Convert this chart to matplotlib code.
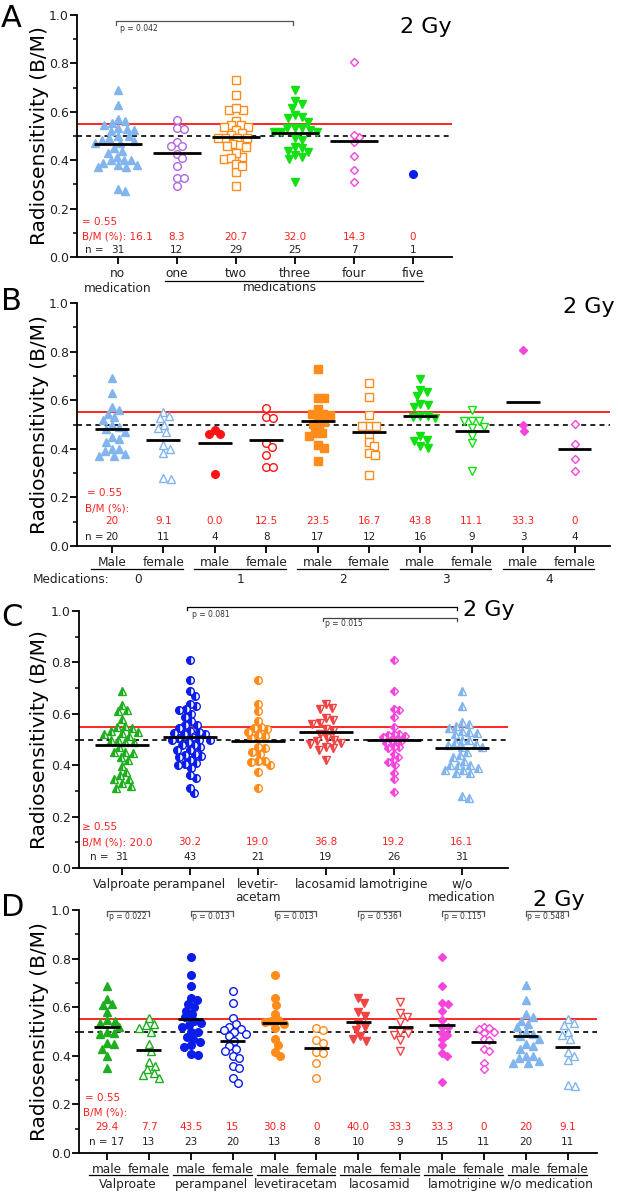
import numpy as np
import matplotlib
matplotlib.use('Agg')
import matplotlib.pyplot as plt

plt.rcParams['font.family'] = ['DejaVu Sans']

W, H = 618, 1193

LBLUE = '#82b4ee'
PURPLE = '#b266dd'
ORANGE = '#ff8c1a'
GREEN = '#12e012'
DGREEN = '#1fae1f'
RED = '#ff1414'
LRED = '#f04545'
MAGENTA = '#f545dc'
BLUE = '#0b1de8'
TRED = '#ff2020'

# ---- panel B data: number of medications x sex ----
b_labels = ['Male', 'female', 'male', 'female', 'male', 'female', 'male', 'female', 'male', 'female']
b_groups = ['0', '1', '2', '3', '4']
b_m0 = [0.69, 0.63, 0.57, 0.56, 0.545, 0.53, 0.52, 0.50, 0.49, 0.48, 0.47, 0.45, 0.44, 0.43, 0.40, 0.40, 0.39, 0.38, 0.37, 0.37]
b_f0 = [0.552, 0.534, 0.525, 0.50, 0.484, 0.47, 0.415, 0.40, 0.381, 0.281, 0.274]
b_m1 = [0.477, 0.459, 0.459, 0.295]
b_f1 = [0.566, 0.532, 0.527, 0.425, 0.408, 0.374, 0.326, 0.326]
b_m2 = [0.73, 0.607, 0.607, 0.563, 0.545, 0.545, 0.538, 0.525, 0.511, 0.504, 0.49, 0.467, 0.463, 0.453, 0.415, 0.405, 0.351]
b_f2 = [0.671, 0.614, 0.538, 0.493, 0.493, 0.493, 0.46, 0.429, 0.411, 0.384, 0.374, 0.292]
b_m3 = [0.689, 0.644, 0.634, 0.616, 0.586, 0.579, 0.573, 0.534, 0.534, 0.532, 0.525, 0.452, 0.438, 0.433, 0.412, 0.404]
b_f3 = [0.559, 0.515, 0.515, 0.515, 0.49, 0.484, 0.453, 0.422, 0.31]
b_m4 = [0.805, 0.497, 0.474]
b_f4 = [0.504, 0.418, 0.36, 0.31]
b_pct = ['20', '9.1', '0.0', '12.5', '23.5', '16.7', '43.8', '11.1', '33.3', '0']
b_n = [20, 11, 4, 8, 17, 12, 16, 9, 3, 4]

# ---- panel A data ----
a_labels = ['no\nmedication', 'one', 'two', 'three', 'four', 'five']
a_five = [0.344]
a_pct = ['16.1', '8.3', '20.7', '32.0', '14.3', '0']
a_n = [31, 12, 29, 25, 7, 1]

# ---- panel D data: drug x sex ----
d_labels = ['male', 'female'] * 6
d_groups = ['Valproate', 'perampanel', 'levetiracetam', 'lacosamid', 'lamotrigine', 'w/o medication']
d_val_m = [0.687, 0.635, 0.613, 0.609, 0.581, 0.548, 0.545, 0.535, 0.52, 0.50, 0.492, 0.489, 0.453, 0.448, 0.43, 0.398, 0.348]
d_val_f = [0.554, 0.53, 0.525, 0.515, 0.50, 0.45, 0.42, 0.375, 0.36, 0.345, 0.33, 0.32, 0.31]
d_per_m = [0.808, 0.733, 0.687, 0.639, 0.63, 0.613, 0.60, 0.586, 0.572, 0.558, 0.545, 0.535, 0.527, 0.52, 0.50, 0.499, 0.477, 0.47, 0.458, 0.444, 0.435, 0.407, 0.403]
d_per_f = [0.668, 0.617, 0.555, 0.53, 0.52, 0.51, 0.505, 0.50, 0.49, 0.48, 0.46, 0.44, 0.43, 0.42, 0.40, 0.39, 0.36, 0.35, 0.31, 0.29]
d_lev_m = [0.733, 0.637, 0.609, 0.572, 0.548, 0.545, 0.54, 0.53, 0.514, 0.469, 0.444, 0.417, 0.399]
d_lev_f = [0.516, 0.506, 0.465, 0.453, 0.417, 0.413, 0.372, 0.31]
d_lac_m = [0.637, 0.619, 0.582, 0.565, 0.535, 0.52, 0.506, 0.481, 0.47, 0.461]
d_lac_f = [0.623, 0.576, 0.561, 0.54, 0.50, 0.494, 0.485, 0.465, 0.421]
d_lam_m = [0.808, 0.688, 0.617, 0.614, 0.586, 0.548, 0.52, 0.518, 0.494, 0.485, 0.469, 0.444, 0.413, 0.399, 0.294]
d_lam_f = [0.52, 0.515, 0.51, 0.50, 0.495, 0.47, 0.465, 0.43, 0.42, 0.37, 0.345]
d_pct = ['29.4', '7.7', '43.5', '15', '30.8', '0', '40.0', '33.3', '33.3', '0', '20', '9.1']
d_n = [17, 13, 23, 20, 13, 8, 10, 9, 15, 11, 20, 11]
d_p = ['p = 0.022', 'p = 0.013', 'p = 0.013', 'p = 0.536', 'p = 0.115', 'p = 0.548']

# ---- panel C data: drug (sexes pooled) ----
c_labels = ['Valproate', 'perampanel', 'levetir-\nacetam', 'lacosamid', 'lamotrigine', 'w/o\nmedication']
c_val_extra = [0.47]
c_pct = ['20.0', '30.2', '19.0', '36.8', '19.2', '16.1']
c_n = [31, 43, 21, 19, 26, 31]


def swarm(vals, ppx, ppy, d):
    vals = np.asarray(vals, float)
    ys = vals * ppy
    placed = []
    offs = np.zeros(len(vals))
    for i in np.argsort(-vals, kind='stable'):
        y = ys[i]
        cands = [0.0]
        for xj, yj in placed:
            dy = abs(y - yj)
            if dy < d:
                dx = np.sqrt(d * d - dy * dy)
                cands += [xj + dx, xj - dx]
        cands.sort(key=abs)
        for c in cands:
            if all((c - xj) ** 2 + (y - yj) ** 2 >= d * d - 1e-6 for xj, yj in placed):
                break
        placed.append((c, y))
        offs[i] = c / ppx
    return offs


fig = plt.figure(figsize=(W / 100, H / 100), dpi=100)


def make(box, xlim):
    l, t, r, b = box
    ax = fig.add_axes([l / W, 1 - b / H, (r - l) / W, (b - t) / H])
    ax.set_xlim(*xlim)
    ax.set_ylim(0, 1)
    ppx = (r - l) / (xlim[1] - xlim[0])
    ppy = (b - t)
    for s in ['top', 'right']:
        ax.spines[s].set_visible(False)
    for s in ['left', 'bottom']:
        ax.spines[s].set_linewidth(1.3)
    ax.set_yticks(np.arange(0, 1.01, 0.2))
    ax.set_yticklabels(['%.1f' % v for v in np.arange(0, 1.01, 0.2)], fontsize=9, color='#222222')
    ax.set_yticks(np.arange(0.1, 1.0, 0.2), minor=True)
    ax.tick_params(axis='y', which='major', length=5, width=1.3, pad=1)
    ax.tick_params(axis='y', which='minor', length=3, width=1.1)
    ax.tick_params(axis='x', length=5, width=1.3, pad=2, labelsize=8.7, labelcolor='#222222')
    ax.axhline(0.55, color=RED, lw=1.3, zorder=1)
    ax.axhline(0.5, color='black', lw=1.2, ls=(0, (3, 2.5)), zorder=1)
    fig.text(40 / W, 1 - (t + b) / 2 / H, 'Radiosensitivity (B/M)', rotation=90,
             ha='center', va='center', fontsize=14.5)
    return ax, ppx, ppy


def draw(ax, ppx, ppy, x0, vals, marker, color, fill, ms, hw):
    # points may overlap a little, as in the original scatter
    offs = swarm(vals, ppx, ppy, ms * 100 / 72 * 0.9)
    kw = dict(ls='none', marker=marker, ms=ms, mec=color, mew=1.0, zorder=3, clip_on=False)
    if fill == 'full':
        kw['mfc'] = color
    elif fill == 'open':
        kw['mfc'] = 'white'
    else:
        kw.update(fillstyle='left', mfc=color, markerfacecoloralt='white')
    ax.plot(x0 + offs, vals, **kw)
    if len(vals) > 1:
        m = np.mean(vals)
        ax.plot([x0 - hw, x0 + hw], [m, m], color='black', lw=2.0, zorder=4, solid_capstyle='butt')


def bracket(ax, x1, x2, y, txt, tx, ty, color='#444444', drop=0.015):
    ax.plot([x1, x1, x2, x2], [y - drop, y, y, y - drop], color=color, lw=0.9, clip_on=False)
    ax.text(tx, ty, txt, fontsize=5.5, ha='left', va='center', color='#333333')


def txt(ax, x, y, s, color='#222222', ha='center'):
    ax.text(x, y, s, fontsize=7.5, color=color, ha=ha, va='center')


# ================= A =================
ax, ppx, ppy = make((77, 15, 452, 257), (-0.69, 5.66))
a_groups = [b_m0 + b_f0, b_m1 + b_f1, b_m2 + b_f2, b_m3 + b_f3, b_m4 + b_f4, a_five]
a_style = [('^', LBLUE, 'full', 6), ('o', PURPLE, 'open', 5.5), ('s', ORANGE, 'open', 5.5),
           ('v', GREEN, 'full', 6), ('D', MAGENTA, 'open', 4.5), ('o', BLUE, 'full', 5.5)]
for i, (vals, st) in enumerate(zip(a_groups, a_style)):
    draw(ax, ppx, ppy, i, vals, st[0], st[1], st[2], st[3], 0.41)
ax.set_xticks(range(6))
ax.set_xticklabels(a_labels)
ax.plot([0.8, 5.17], [-0.099, -0.099], color='black', lw=0.9, clip_on=False)
ax.text(2.75, -0.126, 'medications', fontsize=8.7, ha='center', va='center', color='#222222')
txt(ax, -0.61, 0.145, '= 0.55', TRED, 'left')
txt(ax, -0.61, 0.083, 'B/M (%): ' + a_pct[0], TRED, 'left')
for i in range(1, 6):
    txt(ax, i, 0.083, a_pct[i], TRED)
txt(ax, -0.56, 0.03, 'n =', ha='left')
for i in range(6):
    txt(ax, i, 0.03, str(a_n[i]))
bracket(ax, -0.03, 2.97, 0.975, 'p = 0.042', 0.03, 0.946, '#555555')

# ================= B =================
ax, ppx, ppy = make((77, 303, 610, 546), (-0.68, 9.69))
b_data = [b_m0, b_f0, b_m1, b_f1, b_m2, b_f2, b_m3, b_f3, b_m4, b_f4]
b_style = [('^', LBLUE, 'full', 6), ('^', LBLUE, 'open', 6), ('o', RED, 'full', 5.5), ('o', RED, 'open', 5.5),
           ('s', ORANGE, 'full', 5.5), ('s', ORANGE, 'open', 5.5), ('v', GREEN, 'full', 6), ('v', GREEN, 'open', 6),
           ('D', MAGENTA, 'full', 4.5), ('D', MAGENTA, 'open', 4.5)]
for i, (vals, st) in enumerate(zip(b_data, b_style)):
    draw(ax, ppx, ppy, i, vals, st[0], st[1], st[2], st[3], 0.33)
ax.set_xticks(range(10))
ax.set_xticklabels(b_labels)
for k in range(5):
    ax.plot([2 * k - 0.4, 2 * k + 1.38], [-0.095, -0.095], color='black', lw=0.9, clip_on=False)
    ax.text(2 * k + 0.5, -0.137, b_groups[k], fontsize=8.7, ha='center', va='center', color='#222222')
ax.text(-1.54, -0.137, 'Medications:', fontsize=8.7, ha='left', va='center', color='#222222')
txt(ax, -0.49, 0.218, '= 0.55', TRED, 'left')
txt(ax, -0.53, 0.156, 'B/M (%):', TRED, 'left')
for i in range(10):
    txt(ax, i, 0.103, b_pct[i], TRED)
    txt(ax, i, 0.037, str(b_n[i]))
txt(ax, -0.53, 0.037, 'n =', ha='left')

# ================= C =================
ax, ppx, ppy = make((79, 611, 508, 868), (-0.63, 5.68))
c_data = [d_val_m + d_val_f + c_val_extra, d_per_m + d_per_f, d_lev_m + d_lev_f,
          d_lac_m + d_lac_f, d_lam_m + d_lam_f, b_m0 + b_f0]
c_style = [('^', DGREEN, 6), ('o', BLUE, 5.5), ('o', ORANGE, 5.5), ('v', LRED, 6), ('D', MAGENTA, 4.5), ('^', LBLUE, 6)]
for i, (vals, st) in enumerate(zip(c_data, c_style)):
    draw(ax, ppx, ppy, i, vals, st[0], st[1], 'half', st[2], 0.4)
ax.set_xticks(range(6))
ax.set_xticklabels(c_labels, linespacing=1.0)
txt(ax, -0.59, 0.16, '\u2265 0.55', TRED, 'left')
txt(ax, -0.59, 0.10, 'B/M (%): ' + c_pct[0], TRED, 'left')
for i in range(1, 6):
    txt(ax, i, 0.10, c_pct[i], TRED)
txt(ax, -0.47, 0.043, 'n =', ha='left')
for i in range(6):
    txt(ax, i, 0.043, str(c_n[i]))
bracket(ax, 0.96, 4.93, 1.016, 'p = 0.081', 1.03, 0.988, 'black', 0.012)
bracket(ax, 2.96, 4.93, 0.973, 'p = 0.015', 2.99, 0.95, '#444444', 0.012)

# ================= D =================
ax, ppx, ppy = make((79, 910, 597, 1153), (-0.67, 11.7))
d_data = [d_val_m, d_val_f, d_per_m, d_per_f, d_lev_m, d_lev_f, d_lac_m, d_lac_f, d_lam_m, d_lam_f, b_m0, b_f0]
d_style = [('^', DGREEN, 6), ('o', BLUE, 5.5), ('o', ORANGE, 5.5), ('v', LRED, 6), ('D', MAGENTA, 4.5), ('^', LBLUE, 6)]
for i, vals in enumerate(d_data):
    st = d_style[i // 2]
    draw(ax, ppx, ppy, i, vals, st[0], st[1], 'full' if i % 2 == 0 else 'open', st[2], 0.3)
ax.set_xticks(range(12))
ax.set_xticklabels(d_labels)
for k in range(6):
    ax.plot([2 * k - 0.43, 2 * k + 1.45], [-0.09, -0.09], color='black', lw=0.9, clip_on=False)
    ax.text(2 * k + 0.5, -0.128, d_groups[k], fontsize=8.7, ha='center', va='center', color='#222222')
    bracket(ax, 2 * k, 2 * k + 1, 0.995, d_p[k], 2 * k + 0.04, 0.972, '#555555', 0.018)
txt(ax, -0.52, 0.226, '= 0.55', TRED, 'left')
txt(ax, -0.57, 0.165, 'B/M (%):', TRED, 'left')
for i in range(12):
    txt(ax, i, 0.107, d_pct[i], TRED)
    txt(ax, i, 0.045, ('n = ' if i == 0 else '') + str(d_n[i]))

# panel letters and dose labels
for letter, y in [('A', 27), ('B', 310), ('C', 626), ('D', 916)]:
    fig.text(1 / W, 1 - y / H, letter, fontsize=22, va='baseline', ha='left')
for x, y in [(400, 33), (563, 313), (463, 616), (533, 906)]:
    fig.text(x / W, 1 - y / H, '2 Gy', fontsize=16, va='baseline', ha='left')

fig.savefig('out.png', dpi=100)
